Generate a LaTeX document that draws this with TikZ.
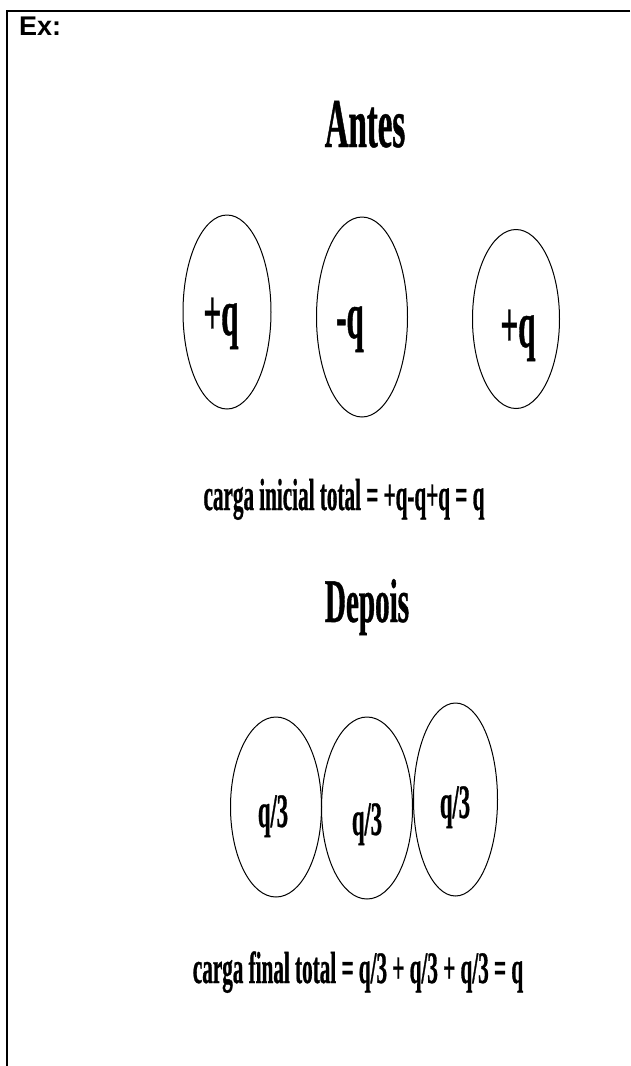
\documentclass[tikz,border=0pt]{standalone}
\usepackage{fontspec}
\setmainfont{Liberation Serif}
\newfontfamily\estreita[FakeStretch=0.47, BoldFeatures={FakeBold=0.6}]{Liberation Serif}
\newfontfamily\exfonte{Liberation Sans}
\usetikzlibrary{shapes.geometric}
\newcommand{\tam}[1]{\fontsize{#1}{#1}\selectfont}

\begin{document}
\begin{tikzpicture}[x=1pt, y=-1pt,
      esfera/.style={draw, ellipse, line width=1pt, inner sep=0pt},
      texto/.style={anchor=base, inner sep=0pt, font=\estreita\bfseries},
      carga/.style={texto, font=\estreita\bfseries\tam{66}},
      parte/.style={texto, font=\estreita\bfseries\tam{48}},
      titulo/.style={texto, font=\estreita\bfseries\tam{70}},
      legenda/.style={texto, font=\estreita\bfseries\tam{45}}]
    \useasboundingbox (0,0) rectangle (630,1066);
    \draw[line width=2.6pt] (630,11) -- (7,11) -- (7,1066);
    \node[anchor=base west, inner sep=0pt, font=\exfonte\bfseries\tam{27}] (ex) at (19,35) {Ex:};

    % antes
    \node[titulo] (antes) at (365,147) {Antes};
    \node[esfera, minimum width=88pt, minimum height=194pt] (a1) at (227,312) {};
    \node[esfera, minimum width=91pt, minimum height=200pt] (a2) at (362,317) {};
    \node[esfera, minimum width=87pt, minimum height=179pt] (a3) at (516,319) {};
    \node[carga] (qa1) at (221,335) {+q};
    \node[carga] (qa2) at (350,338) {-q};
    \node[carga] (qa3) at (518,347) {+q};
    \node[legenda] (inicial) at (344,510) {carga inicial total = +q-q+q = q};

    % depois
    \node[titulo, font=\estreita\bfseries\tam{62}] (depois) at (367,622) {Depois};
    \node[esfera, minimum width=91pt, minimum height=180pt] (d1) at (276,807) {};
    \node[esfera, minimum width=91pt, minimum height=182pt] (d2) at (367,808) {};
    \node[esfera, minimum width=84pt, minimum height=193pt] (d3) at (455.5,799.5) {};
    \node[parte] (qd1) at (273,827) {q/3};
    \node[parte] (qd2) at (367,835) {q/3};
    \node[parte] (qd3) at (455,818) {q/3};
    \node[legenda] (final) at (358,983) {carga final total = q/3 + q/3 + q/3 = q};
  \end{tikzpicture}
\end{document}
